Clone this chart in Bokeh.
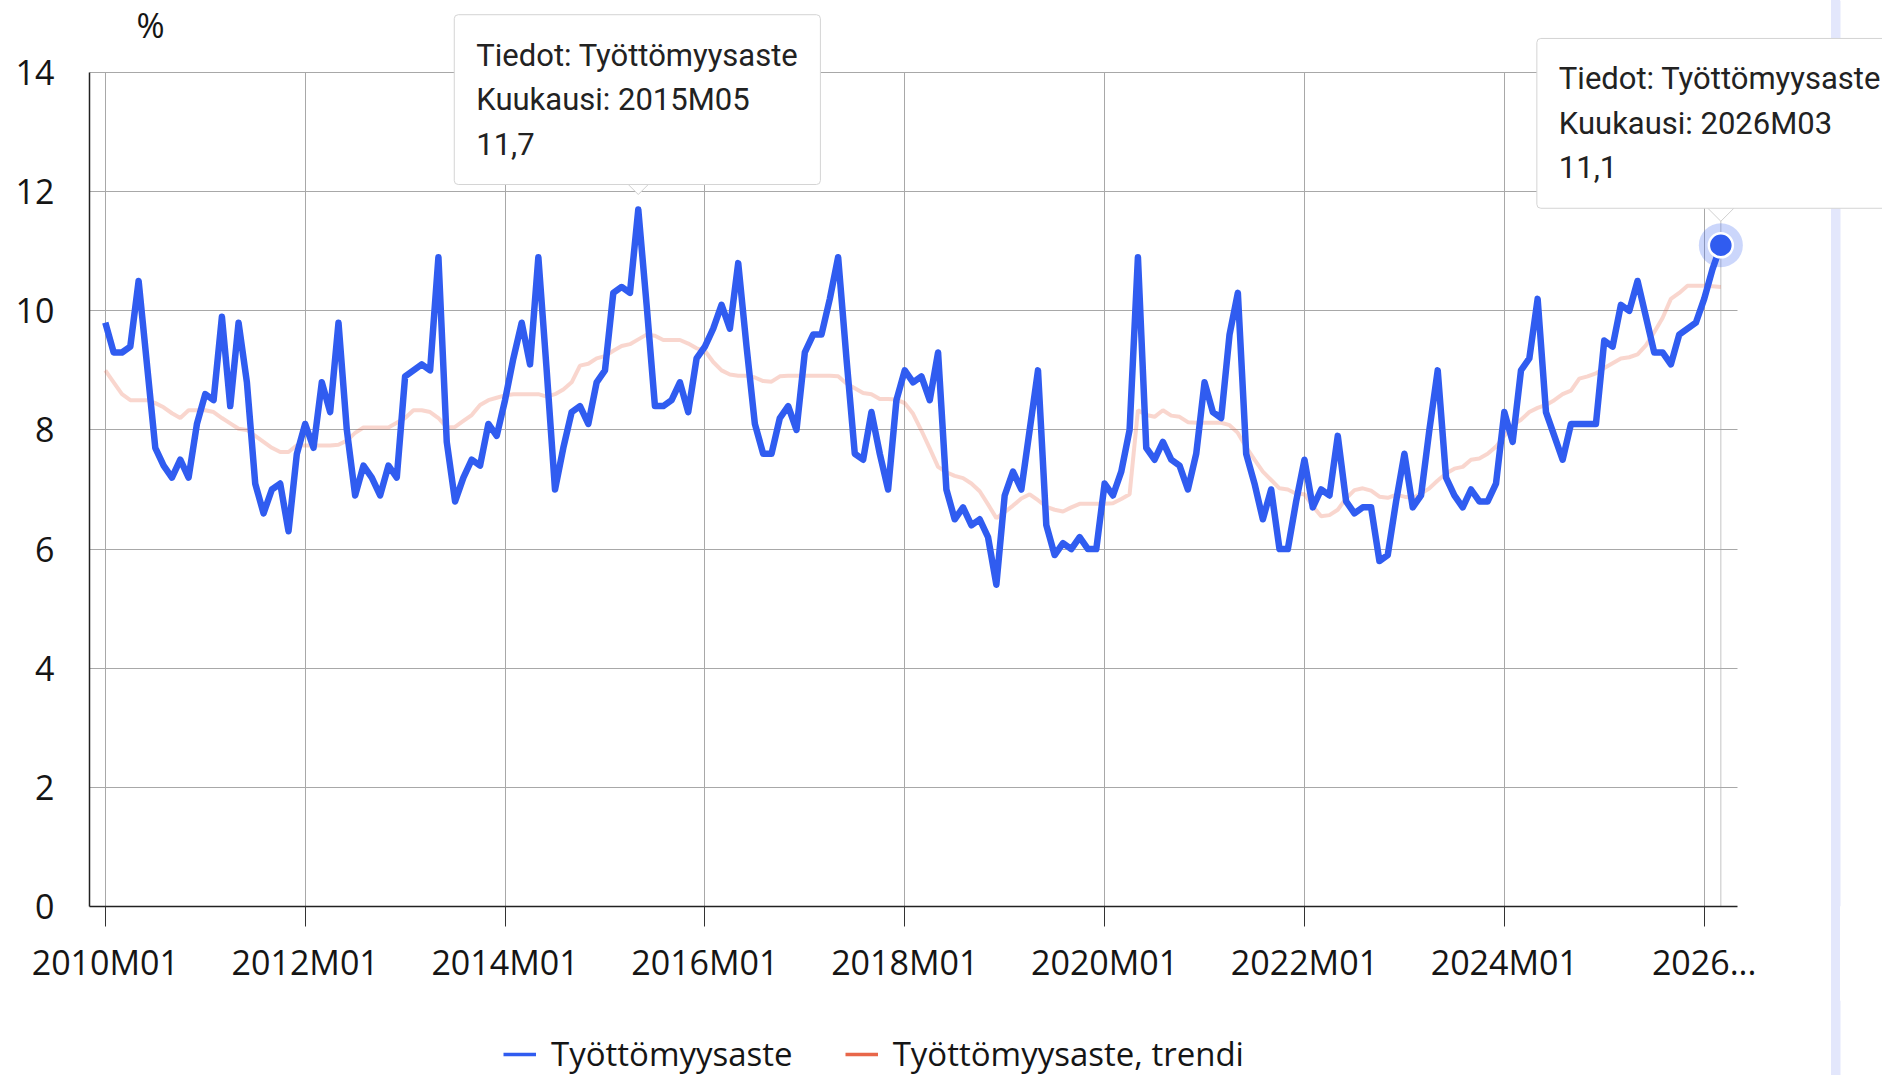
import numpy as np
from bokeh.plotting import figure
from bokeh.layouts import column
from bokeh.models import (Range1d, FixedTicker, Legend, LegendItem, Label, Grid,
                          BoxAnnotation)
from bokeh.embed import file_html
from bokeh.resources import INLINE

# ---------------- data ----------------
series_name = "Työttömyysaste"
trend_name = "Työttömyysaste, trendi"

rate_2010 = [9.8, 9.3, 9.3, 9.4, 10.5, 9.1, 7.7, 7.4, 7.2, 7.5, 7.2, 8.1]
rate_2011 = [8.6, 8.5, 9.9, 8.4, 9.8, 8.8, 7.1, 6.6, 7.0, 7.1, 6.3, 7.6]
rate_2012 = [8.1, 7.7, 8.8, 8.3, 9.8, 8.0, 6.9, 7.4, 7.2, 6.9, 7.4, 7.2]
rate_2013 = [8.9, 9.0, 9.1, 9.0, 10.9, 7.8, 6.8, 7.2, 7.5, 7.4, 8.1, 7.9]
rate_2014 = [8.5, 9.2, 9.8, 9.1, 10.9, 9.0, 7.0, 7.7, 8.3, 8.4, 8.1, 8.8]
rate_2015 = [9.0, 10.3, 10.4, 10.3, 11.7, 10.1, 8.4, 8.4, 8.5, 8.8, 8.3, 9.2]
rate_2016 = [9.4, 9.7, 10.1, 9.7, 10.8, 9.4, 8.1, 7.6, 7.6, 8.2, 8.4, 8.0]
rate_2017 = [9.3, 9.6, 9.6, 10.2, 10.9, 9.2, 7.6, 7.5, 8.3, 7.6, 7.0, 8.5]
rate_2018 = [9.0, 8.8, 8.9, 8.5, 9.3, 7.0, 6.5, 6.7, 6.4, 6.5, 6.2, 5.4]
rate_2019 = [6.9, 7.3, 7.0, 8.0, 9.0, 6.4, 5.9, 6.1, 6.0, 6.2, 6.0, 6.0]
rate_2020 = [7.1, 6.9, 7.3, 8.0, 10.9, 7.7, 7.5, 7.8, 7.5, 7.4, 7.0, 7.6]
rate_2021 = [8.8, 8.3, 8.2, 9.6, 10.3, 7.6, 7.1, 6.5, 7.0, 6.0, 6.0, 6.8]
rate_2022 = [7.5, 6.7, 7.0, 6.9, 7.9, 6.8, 6.6, 6.7, 6.7, 5.8, 5.9, 6.8]
rate_2023 = [7.6, 6.7, 6.9, 8.0, 9.0, 7.2, 6.9, 6.7, 7.0, 6.8, 6.8, 7.1]
rate_2024 = [8.3, 7.8, 9.0, 9.2, 10.2, 8.3, 7.9, 7.5, 8.1, 8.1, 8.1, 8.1]
rate_2025 = [9.5, 9.4, 10.1, 10.0, 10.5, 9.9, 9.3, 9.3, 9.1, 9.6, 9.7, 9.8]
rate_2026 = [10.2, 10.7, 11.1]

trend_2010 = [9.0, 8.8, 8.6, 8.5, 8.5, 8.5, 8.45, 8.38, 8.28, 8.2, 8.33, 8.33]
trend_2011 = [8.33, 8.3, 8.2, 8.11, 8.02, 8.0, 7.9, 7.8, 7.7, 7.63, 7.63, 7.74]
trend_2012 = [7.74, 7.74, 7.74, 7.74, 7.75, 7.82, 7.95, 8.04, 8.04, 8.04, 8.04, 8.12]
trend_2013 = [8.2, 8.33, 8.33, 8.3, 8.2, 8.04, 8.05, 8.15, 8.25, 8.42, 8.5, 8.54]
trend_2014 = [8.58, 8.6, 8.6, 8.6, 8.6, 8.56, 8.6, 8.68, 8.8, 9.08, 9.11, 9.2]
trend_2015 = [9.24, 9.33, 9.41, 9.44, 9.52, 9.6, 9.58, 9.51, 9.51, 9.51, 9.45, 9.37]
trend_2016 = [9.33, 9.14, 9.0, 8.93, 8.91, 8.91, 8.88, 8.82, 8.81, 8.9, 8.91, 8.91]
trend_2017 = [8.91, 8.91, 8.91, 8.91, 8.9, 8.78, 8.7, 8.62, 8.6, 8.52, 8.52, 8.51]
trend_2018 = [8.45, 8.27, 7.99, 7.69, 7.38, 7.29, 7.23, 7.19, 7.1, 6.97, 6.75, 6.52]
trend_2019 = [6.62, 6.73, 6.85, 6.92, 6.82, 6.71, 6.66, 6.63, 6.7, 6.76, 6.76, 6.76]
trend_2020 = [6.76, 6.77, 6.84, 6.92, 8.33, 8.25, 8.22, 8.33, 8.24, 8.22, 8.13, 8.12]
trend_2021 = [8.12, 8.12, 8.12, 8.08, 7.95, 7.71, 7.5, 7.3, 7.16, 7.02, 7.0, 6.93]
trend_2022 = [6.92, 6.72, 6.55, 6.57, 6.66, 6.85, 6.99, 7.02, 6.98, 6.88, 6.86, 6.91]
trend_2023 = [6.88, 6.86, 6.93, 7.02, 7.15, 7.27, 7.35, 7.38, 7.5, 7.52, 7.6, 7.72]
trend_2024 = [7.9, 8.08, 8.17, 8.3, 8.37, 8.42, 8.5, 8.6, 8.66, 8.86, 8.9, 8.95]
trend_2025 = [9.04, 9.12, 9.2, 9.22, 9.27, 9.42, 9.64, 9.88, 10.2, 10.3, 10.42, 10.42]
trend_2026 = [10.42, 10.41, 10.4]

x_tick_months = ["2010M01", "2012M01", "2014M01", "2016M01", "2018M01",
                 "2020M01", "2022M01", "2024M01", "2026M01"]
x_tick_labels = ["2010M01", "2012M01", "2014M01", "2016M01", "2018M01",
                 "2020M01", "2022M01", "2024M01", "2026..."]
y_ticks = [0, 2, 4, 6, 8, 10, 12, 14]

rate = (rate_2010 + rate_2011 + rate_2012 + rate_2013 + rate_2014 + rate_2015 +
        rate_2016 + rate_2017 + rate_2018 + rate_2019 + rate_2020 + rate_2021 +
        rate_2022 + rate_2023 + rate_2024 + rate_2025 + rate_2026)
trend = (trend_2010 + trend_2011 + trend_2012 + trend_2013 + trend_2014 + trend_2015 +
         trend_2016 + trend_2017 + trend_2018 + trend_2019 + trend_2020 + trend_2021 +
         trend_2022 + trend_2023 + trend_2024 + trend_2025 + trend_2026)
months = [f"{y}M{m:02d}" for y in range(2010, 2027) for m in range(1, 13)][:len(rate)]
idx = list(range(len(rate)))

# ---------------- style / layout ----------------
BLUE = "#305cf0"
ORANGE = "#e8674a"
STRIPE = "#e3e7fc"
FONT = "Open Sans"
TIP_FONT = "Roboto"
TXT = "#151515"
GRID = "#a8a8a8"

W = 1882
H_MAIN, H_LEG = 1000, 75
AX_LEFT_PX, AX_RIGHT_PX = 89, 1737  # visible plot area (px)
Y0_PX, YTOP_PX = 906, 72            # pixel rows of y=0 and y=14
STRIPE_L, STRIPE_R = 1831, 1840     # page side stripe (px)
B_LEFT, B_BOTTOM = AX_LEFT_PX, H_MAIN - Y0_PX   # frame reaches top and right canvas edges

y_lo, y_hi = y_ticks[0], y_ticks[-1]
ppu = (Y0_PX - YTOP_PX) / (y_hi - y_lo)
y_end = y_hi + YTOP_PX / ppu

x_start, x_axis_end = -1.9, len(rate) + 1.0
ppm = (AX_RIGHT_PX - AX_LEFT_PX) / (x_axis_end - x_start)
x_end = x_start + (W - B_LEFT) / ppm

p = figure(width=W, height=H_MAIN, output_backend="svg", toolbar_location=None,
           x_range=Range1d(x_start, x_end), y_range=Range1d(y_lo, y_end),
           min_border_left=B_LEFT, min_border_right=0,
           min_border_top=0, min_border_bottom=B_BOTTOM)
p.outline_line_color = None
p.background_fill_alpha = 0
p.border_fill_alpha = 0

# axes
tick_pos = [months.index(m) for m in x_tick_months]
p.xaxis.ticker = FixedTicker(ticks=tick_pos)
p.xaxis.major_label_overrides = {t: l for t, l in zip(tick_pos, x_tick_labels)}
p.xaxis.bounds = (x_start, x_axis_end)
p.yaxis.ticker = FixedTicker(ticks=y_ticks)
p.yaxis.bounds = (y_lo, y_hi)
for ax in (p.xaxis[0], p.yaxis[0]):
    ax.axis_line_color = "#222222"
    ax.axis_line_width = 1.5
    ax.major_label_text_font = FONT
    ax.major_label_text_font_size = "34px"
    ax.major_label_text_color = TXT
    ax.minor_tick_line_color = None
    ax.major_tick_in = 0
p.xaxis.major_tick_out = 20
p.xaxis.major_tick_line_color = "#333333"
p.xaxis.major_tick_line_width = 1
p.xaxis.major_label_standoff = 12
p.yaxis.major_tick_out = 0
p.yaxis.major_tick_line_color = None
p.yaxis.major_label_standoff = 35

# grid limited to the visible plot area
if "cross_bounds" in Grid.properties():
    for g in (p.xgrid[0], p.ygrid[0]):
        g.grid_line_color = GRID
        g.grid_line_width = 1
    p.xgrid[0].cross_bounds = (y_lo, y_hi)
    p.ygrid[0].cross_bounds = (x_start, x_axis_end)
else:
    p.xgrid.grid_line_color = None
    p.ygrid.grid_line_color = None
    p.segment(x0=tick_pos, y0=[y_lo] * len(tick_pos), x1=tick_pos, y1=[y_hi] * len(tick_pos),
              line_color=GRID, line_width=1, level="underlay")
    p.segment(x0=[x_start] * len(y_ticks), y0=y_ticks, x1=[x_axis_end] * len(y_ticks), y1=y_ticks,
              line_color=GRID, line_width=1, level="underlay")

last = len(rate) - 1
peak = int(np.argmax(rate))

# hover crosshair at the highlighted month
p.segment(x0=[idx[last]], y0=[y_lo], x1=[idx[last]], y1=[y_hi],
          line_color="#c4c4c4", line_width=1, level="underlay")

# page side stripe inside the frame (frame-relative screen px)
p.add_layout(BoxAnnotation(left=STRIPE_L - B_LEFT, right=STRIPE_R - B_LEFT,
                           left_units="screen", right_units="screen",
                           fill_color=STRIPE, fill_alpha=1.0, line_color=None))

# "%" unit label
p.add_layout(Label(x=x_start, y=y_hi, x_offset=47, y_offset=48, text="%",
                   text_font=FONT, text_font_size="34px", text_color=TXT,
                   text_align="left", text_baseline="alphabetic"))

# lines
p.line(idx, trend, line_color=ORANGE, line_alpha=0.27, line_width=4)
p.line(idx, rate, line_color=BLUE, line_width=6.5, line_join="round")

# highlighted point
p.scatter([idx[last]], [rate[last]], size=44, fill_color=BLUE, fill_alpha=0.25, line_color=None)
p.scatter([idx[last]], [rate[last]], size=24, fill_color=BLUE, line_color="white", line_width=2.5)


# tooltips
def fmt(v):
    return f"{v:.1f}".replace(".", ",")


def tooltip(i, dx, dy, tip_px):
    side = 20
    half_diag = side / np.sqrt(2)
    p.scatter([idx[i]], [rate[i] + (tip_px + half_diag) / ppu], marker="square",
              angle=np.pi / 4, size=side, fill_color="white", line_color="#d0d0d0",
              line_width=1)
    txt = f"Tiedot: {series_name}\nKuukausi: {months[i]}\n{fmt(rate[i])}"
    p.add_layout(Label(x=idx[i], y=rate[i], x_offset=dx, y_offset=dy, text=txt,
                       text_font=TIP_FONT, text_font_size="31px", text_color="#222222",
                       text_align="left", text_baseline="bottom", text_line_height=1.2,
                       background_fill_color="white", border_line_color="#d4d4d4",
                       border_line_width=1, padding=22, border_radius=4))


tooltip(peak, -184, 25, 15)
tooltip(last, -184, 37, 24)

# ---------------- legend strip below the chart ----------------
# (its frame is aligned with the main frame by the column layout)
pl = figure(width=W, height=H_LEG, output_backend="svg", toolbar_location=None,
            x_range=Range1d(0, 1), y_range=Range1d(0, 1),
            x_axis_location=None, y_axis_location=None,
            min_border_left=0, min_border_right=0, min_border_top=0, min_border_bottom=0)
pl.outline_line_color = None
pl.background_fill_alpha = 0
pl.border_fill_alpha = 0
pl.xgrid.grid_line_color = None
pl.ygrid.grid_line_color = None
pl.add_layout(BoxAnnotation(left=STRIPE_L - B_LEFT, right=STRIPE_R - B_LEFT,
                            left_units="screen", right_units="screen",
                            fill_color=STRIPE, fill_alpha=1.0, line_color=None))
# legend glyph sources: the series themselves, which lie outside this strip's ranges
leg_blue = pl.line(idx, rate, line_color=BLUE, line_width=3.5)
leg_trend = pl.line(idx, trend, line_color=ORANGE, line_width=3.5)
legend = Legend(items=[LegendItem(label=series_name, renderers=[leg_blue]),
                       LegendItem(label=trend_name, renderers=[leg_trend])],
                orientation="horizontal", location=(503 - B_LEFT, -1),
                glyph_width=33, glyph_height=20, label_standoff=15, spacing=52,
                padding=0, margin=0, border_line_color=None, background_fill_alpha=0,
                label_text_font=FONT, label_text_font_size="33px", label_text_color=TXT)
pl.add_layout(legend, "center")

# the stripe continues through the page behind both canvases
stripe_css = (f"linear-gradient(90deg, transparent {STRIPE_L}px, {STRIPE} {STRIPE_L}px, "
              f"{STRIPE} {STRIPE_R}px, transparent {STRIPE_R}px)")
layout = column(p, pl, spacing=0, styles={"background-image": stripe_css})

open("out.html", "w").write(file_html(layout, INLINE))
